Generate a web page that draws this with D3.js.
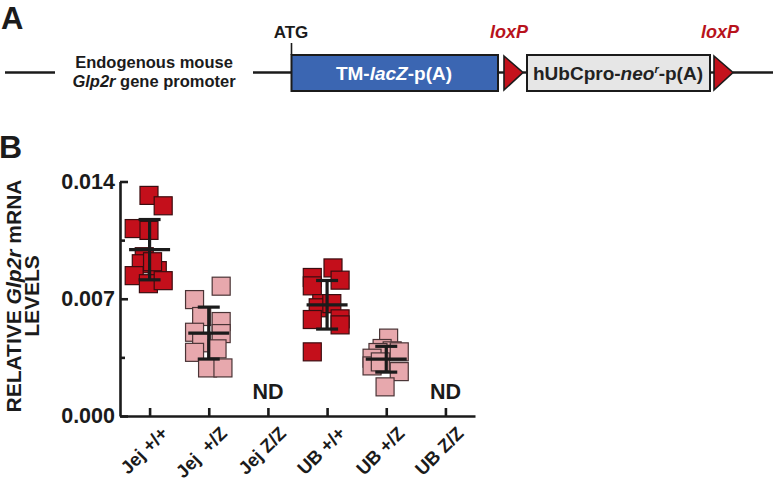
<!DOCTYPE html>
<html>
<head>
<meta charset="utf-8">
<script src="https://cdn.jsdelivr.net/npm/d3@7"></script>
<style>
  html, body { margin: 0; padding: 0; background: #fff; }
  svg { display: block; font-family: "Liberation Sans", Arial, sans-serif; font-weight: bold; }
</style>
</head>
<body>
<svg id="chart" width="773" height="487"></svg>
<script>
// ---------- DATA ----------
const categories = ["Jej +/+", "Jej  +/Z", "Jej Z/Z", "UB +/+", "UB +/Z", "UB Z/Z"];
const genotypeColor = ["wt", "het", "ko", "wt", "het", "ko"];

const jejWT  = [0.01317, 0.01255, 0.01119, 0.01108, 0.00951, 0.00909, 0.00838, 0.00868, 0.00790, 0.00808, 0.00921];
const jejHet = [0.00775, 0.00695, 0.00594, 0.00564, 0.00500, 0.00492, 0.00437, 0.00380, 0.00401, 0.00287, 0.00287];
const jejKO  = [];
const ubWT   = [0.00884, 0.00827, 0.00811, 0.00777, 0.00671, 0.00646, 0.00671, 0.00576, 0.00580, 0.00544, 0.00383];
const ubHet  = [0.00465, 0.00403, 0.00389, 0.00379, 0.00345, 0.00383, 0.00299, 0.00265, 0.00174, 0.00323];
const ubKO   = [];

// horizontal jitter of each point, as a fraction of the category step
const jejWTJitter  = [-0.01, 0.23, -0.26, -0.01, -0.09, -0.14, -0.26, 0.13, -0.02, 0.23, 0.05];
const jejHetJitter = [0.21, -0.24, -0.12, 0.21, -0.24, 0.21, -0.12, -0.24, 0.14, -0.02, 0.24];
const ubWTJitter   = [0.10, -0.25, 0.22, -0.25, -0.09, -0.15, 0.08, -0.25, 0.22, 0.22, -0.25];
const ubHetJitter  = [0.04, -0.07, 0.10, -0.14, -0.24, 0.22, -0.24, 0.22, -0.02, -0.10];

const groupMeans = [0.00993, 0.00495, null, 0.00664, 0.00339, null];
const groupSDs   = [0.00180, 0.00155, null, 0.00145, 0.00077, null];
const notDetected = ["Jej Z/Z", "UB Z/Z"];

const yTicks = [0, 0.007, 0.014];
const yMinorTicks = [0.0035, 0.0105];

// ---------- SETUP ----------
const svg = d3.select("#chart");
const ink = "#1b1b1b";
const colors = { wt: "#c40f1b", het: "#e7a8ad" };
const strokeCols = { wt: "#3b0d10", het: "#4a3436" };

const seriesValues = [jejWT, jejHet, jejKO, ubWT, ubHet, ubKO];
const seriesJitter = [jejWTJitter, jejHetJitter, [], ubWTJitter, ubHetJitter, []];

// ---------- PANEL A (construct schematic) ----------
const A = svg.append("g");
A.append("text").attr("x", 1).attr("y", 29).attr("font-size", 31).attr("fill", ink).text("A");
const midY = 72.5, boxTop = 55, boxH = 36;
// backbone lines
[[5, 55], [253, 292], [498, 504], [523, 527], [710, 715], [733, 773]].forEach(s => {
  A.append("line").attr("x1", s[0]).attr("x2", s[1]).attr("y1", midY).attr("y2", midY)
    .attr("stroke", ink).attr("stroke-width", 2.4);
});
A.append("text").attr("x", 154).attr("y", 68).attr("text-anchor", "middle").attr("font-size", 16.5).attr("fill", ink)
  .text("Endogenous mouse");
const t2 = A.append("text").attr("x", 154).attr("y", 87).attr("text-anchor", "middle").attr("font-size", 16.5).attr("fill", ink);
t2.append("tspan").attr("font-style", "italic").text("Glp2r");
t2.append("tspan").text(" gene promoter");
// ATG
A.append("line").attr("x1", 291.5).attr("x2", 291.5).attr("y1", 43).attr("y2", boxTop).attr("stroke", ink).attr("stroke-width", 1.6);
A.append("text").attr("x", 291).attr("y", 38).attr("text-anchor", "middle").attr("font-size", 17).attr("fill", ink).text("ATG");
// blue box
A.append("rect").attr("x", 291.5).attr("y", boxTop).attr("width", 206.5).attr("height", boxH)
  .attr("fill", "#3b66b2").attr("stroke", ink).attr("stroke-width", 2);
const t3 = A.append("text").attr("x", 394).attr("y", 80).attr("text-anchor", "middle").attr("font-size", 19).attr("fill", "#fff");
t3.append("tspan").text("TM-");
t3.append("tspan").attr("font-style", "italic").text("lacZ");
t3.append("tspan").text("-p(A)");
// gray box
A.append("rect").attr("x", 527).attr("y", boxTop).attr("width", 183).attr("height", boxH)
  .attr("fill", "#e6e6e6").attr("stroke", ink).attr("stroke-width", 2);
const t4 = A.append("text").attr("x", 618).attr("y", 80).attr("text-anchor", "middle").attr("font-size", 19).attr("fill", "#222");
t4.append("tspan").text("hUbCpro-");
t4.append("tspan").attr("font-style", "italic").text("neo");
t4.append("tspan").attr("font-size", 11).attr("dy", -7).attr("font-style", "italic").text("r");
t4.append("tspan").attr("dy", 7).text("-p(A)");
// loxP triangles and labels
[[504, 509], [714, 720]].forEach(([x0, lx]) => {
  A.append("path").attr("d", `M${x0},${boxTop + 1}L${x0 + 19},${midY}L${x0},${boxTop + boxH - 1}Z`)
    .attr("fill", "#c4121c").attr("stroke", ink).attr("stroke-width", 1.6).attr("stroke-linejoin", "miter");
  A.append("text").attr("x", lx).attr("y", 38).attr("text-anchor", "middle").attr("font-size", 18)
    .attr("font-style", "italic").attr("fill", "#b8131c").text("loxP");
});

// ---------- PANEL B (scatter) ----------
svg.append("text").attr("x", -1).attr("y", 158).attr("font-size", 32).attr("fill", ink).text("B");

const x = d3.scalePoint().domain(categories).range([120, 475]).padding(0.5);
const y = d3.scaleLinear().domain([0, 0.014]).range([416, 181.5]);

const B = svg.append("g");

// points
const pts = [];
categories.forEach((c, i) => {
  seriesValues[i].forEach((v, k) => pts.push({ cat: c, v, j: seriesJitter[i][k], g: genotypeColor[i] }));
});
const sq = 18;
B.append("g").selectAll("rect").data(pts).join("rect")
  .attr("x", d => x(d.cat) + d.j * x.step() - sq / 2)
  .attr("y", d => y(d.v) - sq / 2)
  .attr("width", sq).attr("height", sq)
  .attr("fill", d => colors[d.g])
  .attr("stroke", d => strokeCols[d.g]).attr("stroke-width", 1.2);

// mean +/- SD
const stats = categories.map((c, i) => ({ cat: c, m: groupMeans[i], sd: groupSDs[i] })).filter(d => d.m != null);
const eb = B.append("g").attr("stroke", ink).attr("stroke-width", 3.2);
eb.selectAll(".v").data(stats).join("line")
  .attr("x1", d => x(d.cat)).attr("x2", d => x(d.cat))
  .attr("y1", d => y(d.m + d.sd)).attr("y2", d => y(d.m - d.sd));
eb.selectAll(".m").data(stats).join("line")
  .attr("x1", d => x(d.cat) - 20.5).attr("x2", d => x(d.cat) + 20.5)
  .attr("y1", d => y(d.m)).attr("y2", d => y(d.m));
eb.selectAll(".capT").data(stats).join("line")
  .attr("x1", d => x(d.cat) - 11).attr("x2", d => x(d.cat) + 11)
  .attr("y1", d => y(d.m + d.sd)).attr("y2", d => y(d.m + d.sd));
eb.selectAll(".capB").data(stats).join("line")
  .attr("x1", d => x(d.cat) - 11).attr("x2", d => x(d.cat) + 11)
  .attr("y1", d => y(d.m - d.sd)).attr("y2", d => y(d.m - d.sd));

// ND labels
B.append("g").selectAll("text").data(notDetected).join("text")
  .attr("x", d => x(d)).attr("y", 399).attr("text-anchor", "middle")
  .attr("font-size", 21.5).attr("fill", ink).text("ND");

// axes
const yAxis = B.append("g").attr("transform", "translate(120,0)")
  .call(d3.axisLeft(y).tickValues(yTicks).tickFormat(d3.format(".3f")).tickSize(-8).tickSizeOuter(0).tickPadding(5));
const yMinor = B.append("g").attr("transform", "translate(120,0)")
  .call(d3.axisLeft(y).tickValues(yMinorTicks).tickFormat("").tickSize(-5).tickSizeOuter(0));
yMinor.select(".domain").remove();
const xAxis = B.append("g").attr("transform", "translate(0,416)")
  .call(d3.axisBottom(x).tickSize(-8).tickSizeOuter(0).tickFormat(""));

[yAxis, yMinor, xAxis].forEach(g => {
  g.selectAll("path, line").attr("stroke", ink).attr("stroke-width", 2.6);
});
yAxis.selectAll("text").attr("font-size", 21.5).attr("font-family", "Liberation Sans, Arial, sans-serif")
  .attr("font-weight", "bold").attr("fill", ink);

// x labels rotated
B.append("g").selectAll("text").data(categories).join("text")
  .attr("transform", d => `translate(${x(d) + 10},${425}) rotate(-45)`)
  .attr("text-anchor", "end").attr("dy", "0.72em")
  .attr("font-size", 18.5).attr("fill", ink)
  .style("white-space", "pre")
  .text(d => d);

// y title
const yt = B.append("g").attr("transform", "translate(0,296) rotate(-90)");
const l1 = yt.append("text").attr("x", 0).attr("y", 21).attr("text-anchor", "middle").attr("font-size", 21).attr("fill", ink);
l1.append("tspan").text("RELATIVE ");
l1.append("tspan").attr("font-style", "italic").text("Glp2r");
l1.append("tspan").text(" mRNA");
yt.append("text").attr("x", 0).attr("y", 39).attr("text-anchor", "middle").attr("font-size", 21).attr("fill", ink).text("LEVELS");
</script>
</body>
</html>
